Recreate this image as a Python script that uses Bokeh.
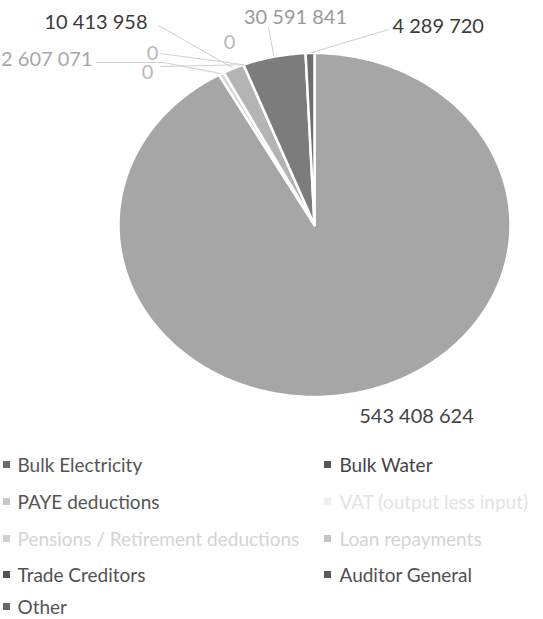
import numpy as np
from bokeh.plotting import figure
from bokeh.models import Range1d, ColumnDataSource
from bokeh.embed import file_html
from bokeh.resources import INLINE
from bokeh.core.properties import value

# ---------------- data ----------------
categories = [
    "Bulk Electricity",
    "Bulk Water",
    "PAYE deductions",
    "VAT (output less input)",
    "Pensions / Retirement deductions",
    "Loan repayments",
    "Trade Creditors",
    "Auditor General",
    "Other",
]
amounts = [543408624, 2607071, 10413958, 0, 0, 0, 30591841, 4289720, None]

# ---------------- styles ----------------
slice_colors = ["#a6a6a6", "#d6d6d6", "#b4b4b4", "#eeeeee", "#d6d6d6",
                "#cccccc", "#7c7c7c", "#6e6e6e", "#707070"]
marker_colors = ["#6a6a6a", "#555555", "#c8c8c8", "#eeeeee", "#d0d0d0",
                 "#c4c4c4", "#555555", "#5a5a5a", "#666666"]
legend_text_colors = ["#555555", "#444444", "#555555", "#e2e2e2", "#d4d4d4",
                      "#d4d4d4", "#505050", "#505050", "#555555"]
FONT = "Lato"

W, H = 543, 619
CX, CY, RX, RY = 314.0, 224.5, 196.0, 172.0

p = figure(width=W, height=H, output_backend="svg", toolbar_location=None,
           x_range=Range1d(0, W), y_range=Range1d(H, 0), min_border=0)
p.axis.visible = False
p.grid.visible = False
p.outline_line_color = None
p.background_fill_color = "white"
p.border_fill_color = "white"


def rim(phi, r=1.0):
    return CX + r * RX * np.sin(phi), CY - r * RY * np.cos(phi)


vals = np.array([v if v is not None else 0 for v in amounts], dtype=float)
total = vals.sum()
ends = np.cumsum(vals) / total * 2 * np.pi
starts = ends - vals / total * 2 * np.pi
mids = (starts + ends) / 2

xs, ys, cols = [], [], []
for s, e, v, c in zip(starts, ends, vals, slice_colors):
    if v <= 0:
        continue
    n = max(3, int((e - s) / (2 * np.pi) * 360))
    ph = np.linspace(s, e, n)
    px, py = rim(ph)
    xs.append([CX] + list(px))
    ys.append([CY] + list(py))
    cols.append(c)
p.patches(xs, ys, fill_color=cols, line_color="white", line_width=2.5,
          line_join="round")

# ---------------- data labels ----------------
# label layout: (x, y, align, colour, leader start points or None)
label_layout = {
    "Bulk Electricity": (416, 414, "center", "#444444", None),
    "Bulk Water": (92, 57, "right", "#a8a8a8", [(96, 62), (163, 62)]),
    "PAYE deductions": (147, 20, "right", "#3a3a3a", [(158, 25)]),
    "VAT (output less input)": (152, 52, "center", "#b8b8b8", [(160, 53)]),
    "Pensions / Retirement deductions": (147, 71, "center", "#b8b8b8", [(160, 66)]),
    "Loan repayments": (229, 41, "center", "#b8b8b8", None),
    "Trade Creditors": (295, 15, "center", "#9a9a9a", [(268, 27)]),
    "Auditor General": (392, 24, "left", "#3a3a3a", [(388, 29)]),
}

lx, ly, lt, la, lc = [], [], [], [], []
for cat, v, m in zip(categories, amounts, mids):
    if v is None or cat not in label_layout:
        continue
    x, y, al, col, lead = label_layout[cat]
    lx.append(x); ly.append(y); la.append(al); lc.append(col)
    lt.append(f"{v:,}".replace(",", " "))
    if lead:
        ex, ey = rim(m)
        pts = lead + [(ex, ey)]
        p.line([q[0] for q in pts], [q[1] for q in pts],
               line_color="#cfcfcf", line_width=1)

p.text(x="x", y="y", text="t", text_align="a", text_color="c",
       source=ColumnDataSource(dict(x=lx, y=ly, t=lt, a=la, c=lc)),
       text_font=value(FONT), text_font_size="20px", text_baseline="middle")

# ---------------- legend ----------------
row_y = [464, 501, 538, 574, 606]
col_marker_x = [6, 327]
col_text_x = [17, 339]
mx, my, tx, ty = [], [], [], []
for i, cat in enumerate(categories):
    r, c = divmod(i, 2)
    mx.append(col_marker_x[c]); my.append(row_y[r])
    tx.append(col_text_x[c]); ty.append(row_y[r])
p.scatter(mx, my, marker="square", size=7, fill_color=marker_colors,
          line_color=None)
p.text(x=tx, y=ty, text=categories, text_color=legend_text_colors,
       text_font=value(FONT), text_font_size="19px", text_baseline="middle",
       text_align="left")

open("out.html", "w").write(file_html(p, INLINE))
